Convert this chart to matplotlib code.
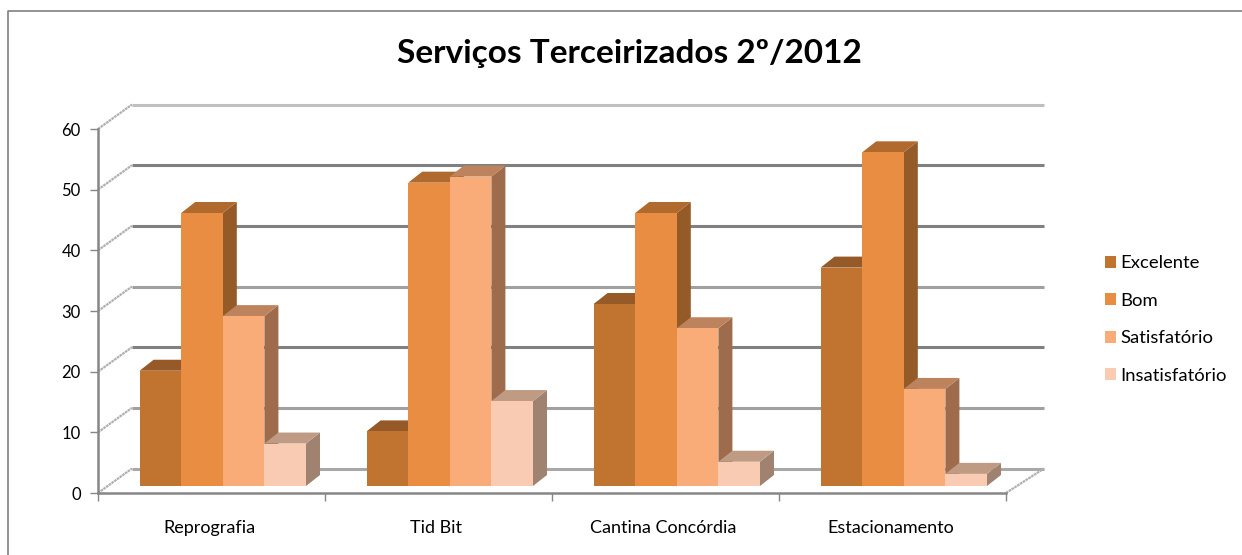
import matplotlib
matplotlib.use("Agg")
import matplotlib.pyplot as plt
from matplotlib.lines import Line2D
from matplotlib.patches import Polygon, Rectangle

# datos
categorias = ["Reprografia", "Tid Bit", "Cantina Concórdia", "Estacionamento"]
series = ["Excelente", "Bom", "Satisfatório", "Insatisfatório"]
excelente = [19, 9, 30, 36]
bom = [45, 50, 45, 55]
satisfatorio = [28, 51, 26, 16]
insatisfatorio = [7, 14, 4, 2]
y_ticks = [0, 10, 20, 30, 40, 50, 60]

valores = [excelente, bom, satisfatorio, insatisfatorio]
frente = ["#C07430", "#E98D42", "#F9AB78", "#F9CBB3"]
arriba = ["#955A28", "#B06A2E", "#BD835C", "#C09B84"]
lado = ["#8A5426", "#945A28", "#9E6C4C", "#A08270"]
grid_colors = ["#A8A8A8", "#A0A0A0", "#808080", "#A0A0A0", "#808080", "#808080", "#C0C0C0"]

W, H = 1242, 555
plt.rcParams["font.family"] = ["Lato", "DejaVu Sans"]
fig = plt.figure(figsize=(W / 100, H / 100), dpi=100)

# el eje es el plano frontal del grafico 3D
x0, x1, y0, y60 = 98, 1006, 493, 129
ax = fig.add_axes([x0 / W, 1 - y0 / H, (x1 - x0) / W, (y0 - y60) / H])
ax.set_xlim(0, 4)
ax.set_ylim(0, 60)
ax.patch.set_alpha(0)

px_x = (x1 - x0) / 4
px_y = (y0 - y60) / 60

# profundidad de la pared del fondo y de las barras
prof_izq = 34 / px_x
prof_der = 38 / px_x
prof_y = 24.5 / px_y
barra_w = 41.6 / px_x
barra_dx = 14 / px_x
barra_dy = 11 / px_y
base_y = 7 / px_y
margen = 41.6 / px_x

# ── paredes ──
for t, c in zip(y_ticks, grid_colors):
    ax.plot([prof_izq, 4 + prof_der], [t + prof_y, t + prof_y], color=c, lw=2.2,
            clip_on=False, zorder=1, solid_capstyle="butt")
    ax.plot([0, prof_izq], [t, t + prof_y], color="#B0B0B0", lw=1.6, ls=(0, (1.2, 0.3)),
            clip_on=False, zorder=1)
ax.plot([4, 4 + prof_der], [0, prof_y], color="#B0B0B0", lw=1.6, ls=(0, (1.2, 0.3)),
        clip_on=False, zorder=1)

# ── barras ──
z = 2
for i in range(len(categorias)):
    for j, vals in enumerate(valores):
        x = i + margen + j * barra_w
        v = vals[i]
        b = base_y
        top = b + v
        ax.add_patch(Polygon([(x + barra_w, b), (x + barra_w + barra_dx, b + barra_dy),
                              (x + barra_w + barra_dx, top + barra_dy), (x + barra_w, top)],
                             fc=lado[j], ec="none", zorder=z, clip_on=False))
        ax.add_patch(Polygon([(x, top), (x + barra_w, top), (x + barra_w + barra_dx, top + barra_dy),
                              (x + barra_dx, top + barra_dy)],
                             fc=arriba[j], ec="none", zorder=z, clip_on=False))
        ax.add_patch(Rectangle((x, b), barra_w, v, fc=frente[j], ec="none", zorder=z + 0.5,
                               clip_on=False))
        z += 1

# ── ejes ──
for s in ["top", "right"]:
    ax.spines[s].set_visible(False)
for s in ["left", "bottom"]:
    ax.spines[s].set_color("#868686")
    ax.spines[s].set_linewidth(1.8)
    ax.spines[s].set_zorder(1.5)
ax.set_yticks(y_ticks)
ax.set_xticks([0, 1, 2, 3, 4])
ax.set_xticklabels([])
ax.tick_params(axis="both", color="#868686", width=1, length=6, labelsize=12, labelcolor="black")
ax.tick_params(axis="y", pad=6.5)

for i, c in enumerate(categorias):
    ax.annotate(c, (i + 0.5, 0), xytext=(-1.5, -25), textcoords="offset points", ha="center",
                va="center", fontsize=13, color="black", annotation_clip=False)

# ── leyenda ──
handles = [Rectangle((0, 0), 1, 1, fc=c, ec="none") for c in frente]
fig.legend(handles, series, loc="center left", bbox_to_anchor=(1105 / W, 1 - 319.5 / H),
           frameon=False, fontsize=13.3, handlelength=0.6, handleheight=0.6, labelspacing=1.16,
           handletextpad=0.25, borderpad=0, borderaxespad=0)

fig.text(629 / W, 1 - 53 / H, "Serviços Terceirizados 2º/2012", ha="center", va="center",
         fontsize=24, fontweight="bold", color="black")

# borde del grafico: solo arriba y a la izquierda
fig.add_artist(Line2D([7.5 / W, 7.5 / W, 1], [0, 1 - 11 / H, 1 - 11 / H], transform=fig.transFigure,
                      color="#808080", lw=1.2))

plt.savefig("out.png", dpi=100)
plt.close()
